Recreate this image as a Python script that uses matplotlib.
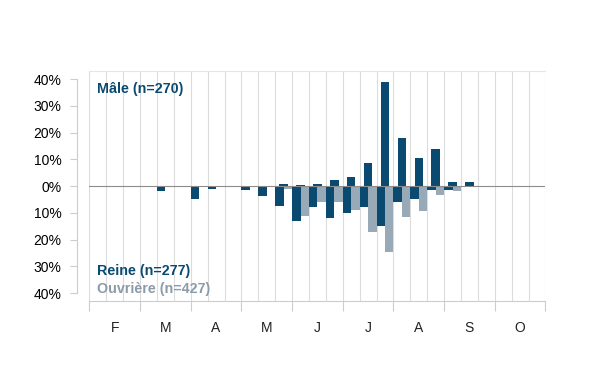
import numpy as np
import matplotlib
matplotlib.use("Agg")
import matplotlib.pyplot as plt

plt.rcParams["font.family"] = ["Liberation Sans", "DejaVu Sans"]

# 27 décades, de février à octobre
months = ["F", "M", "A", "M", "J", "J", "A", "S", "O"]

male = [0, 0, 0, 0, 0, 0, 0, 0, 0, 0, 0, 0.75, 0.4, 0.75, 2.2, 3.2, 8.6,
        39.0, 17.8, 10.3, 13.7, 1.6, 1.6, 0, 0, 0, 0]
reine = [0, 0, 0, 0, 2.0, 0.4, 4.9, 1.1, 0.4, 1.5, 3.6, 7.4, 13.1, 8.0, 12.1,
         10.2, 8.0, 14.8, 5.9, 5.0, 1.5, 1.4, 0, 0, 0, 0, 0]
ouvriere = [0, 0, 0, 0.4, 0, 0, 0, 0, 0, 0, 0, 1.2, 11.1, 5.9, 5.9, 9.0, 17.1,
            24.5, 11.7, 9.2, 3.5, 2.0, 0.5, 0, 0, 0, 0]

yticks = [-40, -30, -20, -10, 0, 10, 20, 30, 40]

dark = "#0a4a70"
grey = "#98a9b7"

x = np.arange(len(male))

fig = plt.figure(figsize=(6, 3.9), dpi=100)
ax = fig.add_axes([0.149, 0.228, 0.76, 0.59])

ax.bar(x + 0.5, male, width=0.5, color=dark, zorder=3)
ax.bar(x + 0.25, -np.array(reine), width=0.5, color=dark, zorder=3)
ax.bar(x + 0.75, -np.array(ouvriere), width=0.5, color=grey, zorder=3)

ax.axhline(0, color="#8c8c8c", lw=0.8, zorder=4)

ax.set_xlim(0, 27)
ax.set_ylim(-43, 43)

# grille verticale par décade
for i in range(28):
    ax.axvline(i, color="#dcdcdc", lw=0.8, zorder=1)

ax.set_xticks(np.arange(0, 28, 3))
ax.set_xticklabels([])
ax.set_xticks(np.arange(1.5, 27, 3), minor=True)
ax.set_xticklabels(months, minor=True, fontsize=10, color="#222222")
ax.tick_params(axis="x", which="major", length=7, color="#cccccc")
ax.tick_params(axis="x", which="minor", length=0, pad=14)

ax.set_yticks(yticks)
ax.set_yticklabels([f"{abs(v)}%" for v in yticks], fontsize=10, color="#222222")
ax.tick_params(axis="y", length=5, color="#cccccc", pad=6)

ax.spines["left"].set_position(("outward", 9))
ax.spines["left"].set_bounds(-40, 40)
ax.spines["left"].set_color("#cccccc")
ax.spines["bottom"].set_color("#cccccc")
ax.spines["top"].set_color("#e6e6e6")
ax.spines["right"].set_visible(False)

ax.text(0.45, 36.3, "Mâle (n=270)", color=dark, fontsize=10.3, fontweight="bold",
        va="center", ha="left")
ax.text(0.45, -31.8, "Reine (n=277)", color=dark, fontsize=10.3, fontweight="bold",
        va="center", ha="left")
ax.text(0.45, -38.5, "Ouvrière (n=427)", color="#8c9ba8", fontsize=10.3,
        fontweight="bold", va="center", ha="left")

fig.savefig("out.png", dpi=100)
